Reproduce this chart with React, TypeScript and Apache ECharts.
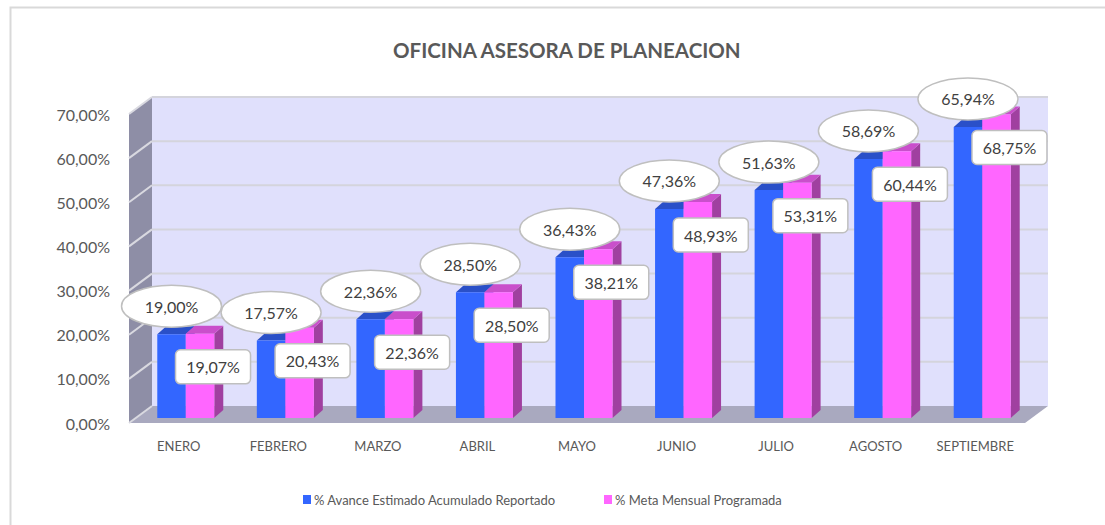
import React, { useEffect, useRef } from "react";
import * as echarts from "echarts";

const categories = ["ENERO", "FEBRERO", "MARZO", "ABRIL", "MAYO", "JUNIO", "JULIO", "AGOSTO", "SEPTIEMBRE"];
const avance = [19.0, 17.57, 22.36, 28.5, 36.43, 47.36, 51.63, 58.69, 65.94];
const meta = [19.07, 20.43, 22.36, 28.5, 38.21, 48.93, 53.31, 60.44, 68.75];
const yTicks = [0, 10, 20, 30, 40, 50, 60, 70];
const seriesNames = ["% Avance Estimado Acumulado Reportado", "% Meta Mensual Programada"];
const title = "OFICINA ASESORA DE PLANEACION";

const FONT = "Lato, 'Open Sans', sans-serif";
const fmt = (v: number) => v.toFixed(2).replace(".", ",") + "%";

// 3D geometry (pixels)
const WALL_DX = 23;
const WALL_DY = -17;
const BAR_OX = 7;
const BAR_OY = -5;
const BAR_W = 28.5;
const BAR_DX = 9;
const BAR_DY = -8;

const colors = {
  blue: { front: "#3366FF", top: "#2A50C8", side: "#2444AA" },
  pink: { front: "#FF66FF", top: "#C94FCB", side: "#A040A0" },
};

function barGeom(api: any, s: number) {
  const idx = api.value(0);
  const val = api.value(1);
  const base = api.coord([idx, 0]);
  const top = api.coord([idx, val]);
  const xl = base[0] + BAR_OX + (s === 0 ? -BAR_W : 0);
  const yb = base[1] + BAR_OY;
  const yt = top[1] + BAR_OY;
  return { xl, yb, yt, val };
}

function makeBarRender(s: number) {
  const c = s === 0 ? colors.blue : colors.pink;
  return (params: any, api: any) => {
    const { xl, yb, yt } = barGeom(api, s);
    const xr = xl + BAR_W;
    return {
      type: "group",
      children: [
        {
          type: "polygon",
          shape: { points: [[xr, yt], [xr + BAR_DX, yt + BAR_DY], [xr + BAR_DX, yb + BAR_DY], [xr, yb]] },
          style: { fill: c.side },
        },
        {
          type: "polygon",
          shape: { points: [[xl, yt], [xr, yt], [xr + BAR_DX, yt + BAR_DY], [xl + BAR_DX, yt + BAR_DY]] },
          style: { fill: c.top },
        },
        {
          type: "rect",
          shape: { x: xl, y: yt, width: BAR_W, height: yb - yt },
          style: { fill: c.front },
        },
      ],
    };
  };
}

function makeLabelRender(s: number) {
  return (params: any, api: any) => {
    const { xl, yt, val } = barGeom(api, s);
    const cx0 = xl + BAR_W / 2;
    const text = fmt(val);
    if (s === 0) {
      const cx = cx0;
      const cy = yt - 28;
      return {
        type: "group",
        children: [
          {
            type: "ellipse",
            shape: { cx, cy, rx: 50, ry: 21 },
            style: { fill: "#FFFFFF", stroke: "#BFBFBF", lineWidth: 1.5 },
          },
          {
            type: "text",
            x: cx,
            y: cy,
            style: { text, fill: "#404040", fontSize: 16, fontFamily: FONT, align: "center", verticalAlign: "middle" },
          },
        ],
      };
    }
    const cx = cx0 + 13;
    const cy = yt + 33;
    return {
      type: "group",
      children: [
        {
          type: "rect",
          shape: { x: cx - 37.5, y: cy - 17, width: 75, height: 34, r: 5 },
          style: { fill: "#FFFFFF", stroke: "#BFBFBF", lineWidth: 1.5 },
        },
        {
          type: "text",
          x: cx,
          y: cy,
          style: { text, fill: "#404040", fontSize: 16, fontFamily: FONT, align: "center", verticalAlign: "middle" },
        },
      ],
    };
  };
}

function wallRender(params: any, api: any) {
  const cs = params.coordSys;
  const x0 = cs.x;
  const x1 = cs.x + cs.width;
  const yb = api.coord([0, 0])[1];
  const yTop = api.coord([0, yTicks[yTicks.length - 1]])[1];
  const children: any[] = [];
  children.push({
    type: "polygon",
    shape: {
      points: [
        [x0 + WALL_DX, yTop + WALL_DY],
        [x1 + WALL_DX, yTop + WALL_DY],
        [x1 + WALL_DX, yb + WALL_DY],
        [x0 + WALL_DX, yb + WALL_DY],
      ],
    },
    style: { fill: "#E0E0FC" },
  });
  children.push({
    type: "polygon",
    shape: {
      points: [
        [x0, yTop],
        [x0 + WALL_DX, yTop + WALL_DY],
        [x0 + WALL_DX, yb + WALL_DY],
        [x0, yb],
      ],
    },
    style: { fill: "#8E8EA6" },
  });
  children.push({
    type: "polygon",
    shape: {
      points: [
        [x0, yb],
        [x1, yb],
        [x1 + WALL_DX, yb + WALL_DY],
        [x0 + WALL_DX, yb + WALL_DY],
      ],
    },
    style: { fill: "#A9A9BF" },
  });
  yTicks.forEach((t) => {
    const y = api.coord([0, t])[1];
    if (t > 0) {
      children.push({
        type: "line",
        shape: { x1: x0 + WALL_DX, y1: y + WALL_DY, x2: x1 + WALL_DX, y2: y + WALL_DY },
        style: { stroke: "#D4D4DC", lineWidth: 2 },
      });
    }
    children.push({
      type: "line",
      shape: { x1: x0, y1: y, x2: x0 + WALL_DX, y2: y + WALL_DY },
      style: { stroke: "#D9D9E0", lineWidth: 2 },
    });
  });
  return { type: "group", children };
}

export default function App() {
  const ref = useRef<HTMLDivElement>(null);
  useEffect(() => {
    if (!ref.current) return;
    const chart = echarts.init(ref.current, undefined, { renderer: "svg" });
    const legendBase = {
      top: 493,
      icon: "rect",
      itemWidth: 8,
      itemHeight: 9,
      itemGap: 0,
      padding: 0,
      textStyle: { fontSize: 13, color: "#595959", fontFamily: FONT, padding: [0, 0, 0, -2] },
    };
    chart.setOption({
      animation: false,
      backgroundColor: "#FFFFFF",
      title: {
        text: title,
        left: 388,
        top: 34,
        textStyle: { fontSize: 20.5, fontWeight: "bold", color: "#595959", fontFamily: FONT },
      },
      legend: [
        { ...legendBase, left: 303, data: [seriesNames[0]] },
        { ...legendBase, left: 604, data: [seriesNames[1]] },
      ],
      graphic: [
        {
          type: "rect",
          left: 8,
          top: 5,
          shape: { width: 1120, height: 540 },
          style: { fill: "none", stroke: "#D9D9D9", lineWidth: 2 },
          z: -1,
        },
      ],
      grid: { left: 129, right: 80, top: 114, bottom: 102, containLabel: false },
      xAxis: {
        type: "category",
        data: categories,
        axisLine: { show: false },
        axisTick: { show: false },
        axisLabel: { fontSize: 13, color: "#595959", fontFamily: FONT, margin: 16, interval: 0 },
        splitLine: { show: false },
      },
      yAxis: {
        type: "value",
        min: 0,
        max: 70,
        interval: 10,
        axisLine: { show: false },
        axisTick: { show: false },
        splitLine: { show: false },
        axisLabel: { fontSize: 16, color: "#595959", fontFamily: FONT, margin: 19, formatter: (v: number) => fmt(v) },
      },
      series: [
        {
          type: "custom",
          name: "walls",
          z: 0,
          silent: true,
          renderItem: wallRender,
          data: [[0, 0]],
          encode: { x: 0, y: 1 },
        },
        {
          type: "custom",
          name: seriesNames[0],
          z: 2,
          itemStyle: { color: colors.blue.front },
          renderItem: makeBarRender(0),
          data: avance.map((v, i) => [i, v]),
          encode: { x: 0, y: 1 },
        },
        {
          type: "custom",
          name: seriesNames[1],
          z: 2,
          itemStyle: { color: colors.pink.front },
          renderItem: makeBarRender(1),
          data: meta.map((v, i) => [i, v]),
          encode: { x: 0, y: 1 },
        },
        {
          type: "custom",
          name: "labels-avance",
          z: 5,
          renderItem: makeLabelRender(0),
          data: avance.map((v, i) => [i, v]),
          encode: { x: 0, y: 1 },
        },
        {
          type: "custom",
          name: "labels-meta",
          z: 5,
          renderItem: makeLabelRender(1),
          data: meta.map((v, i) => [i, v]),
          encode: { x: 0, y: 1 },
        },
      ],
    });
    return () => chart.dispose();
  }, []);
  return (
    <div
      ref={ref}
      style={{ position: "absolute", left: 0, top: 0, width: 1105, height: 525 }}
    />
  );
}
